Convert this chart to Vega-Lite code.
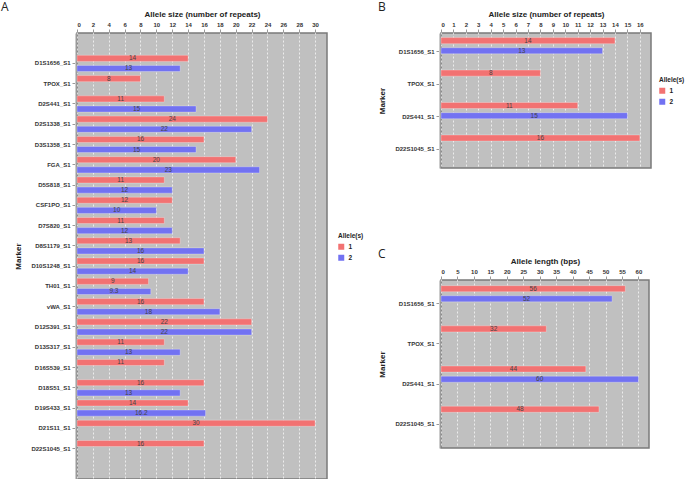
{
  "$schema": "https://vega.github.io/schema/vega-lite/v6.json",
  "padding": {"left": 0, "top": 0, "right": 0, "bottom": 0},
  "background": "white",
  "datasets": {
    "A": [
      {"marker": "D1S1656_S1", "allele": "1", "value": 14, "label": "14"},
      {"marker": "D1S1656_S1", "allele": "2", "value": 13, "label": "13"},
      {"marker": "TPOX_S1", "allele": "1", "value": 8, "label": "8"},
      {"marker": "D2S441_S1", "allele": "1", "value": 11, "label": "11"},
      {"marker": "D2S441_S1", "allele": "2", "value": 15, "label": "15"},
      {"marker": "D2S1338_S1", "allele": "1", "value": 24, "label": "24"},
      {"marker": "D2S1338_S1", "allele": "2", "value": 22, "label": "22"},
      {"marker": "D3S1358_S1", "allele": "1", "value": 16, "label": "16"},
      {"marker": "D3S1358_S1", "allele": "2", "value": 15, "label": "15"},
      {"marker": "FGA_S1", "allele": "1", "value": 20, "label": "20"},
      {"marker": "FGA_S1", "allele": "2", "value": 23, "label": "23"},
      {"marker": "D5S818_S1", "allele": "1", "value": 11, "label": "11"},
      {"marker": "D5S818_S1", "allele": "2", "value": 12, "label": "12"},
      {"marker": "CSF1PO_S1", "allele": "1", "value": 12, "label": "12"},
      {"marker": "CSF1PO_S1", "allele": "2", "value": 10, "label": "10"},
      {"marker": "D7S820_S1", "allele": "1", "value": 11, "label": "11"},
      {"marker": "D7S820_S1", "allele": "2", "value": 12, "label": "12"},
      {"marker": "D8S1179_S1", "allele": "1", "value": 13, "label": "13"},
      {"marker": "D8S1179_S1", "allele": "2", "value": 16, "label": "16"},
      {"marker": "D10S1248_S1", "allele": "1", "value": 16, "label": "16"},
      {"marker": "D10S1248_S1", "allele": "2", "value": 14, "label": "14"},
      {"marker": "TH01_S1", "allele": "1", "value": 9, "label": "9"},
      {"marker": "TH01_S1", "allele": "2", "value": 9.3, "label": "9.3"},
      {"marker": "vWA_S1", "allele": "1", "value": 16, "label": "16"},
      {"marker": "vWA_S1", "allele": "2", "value": 18, "label": "18"},
      {"marker": "D12S391_S1", "allele": "1", "value": 22, "label": "22"},
      {"marker": "D12S391_S1", "allele": "2", "value": 22, "label": "22"},
      {"marker": "D13S317_S1", "allele": "1", "value": 11, "label": "11"},
      {"marker": "D13S317_S1", "allele": "2", "value": 13, "label": "13"},
      {"marker": "D16S539_S1", "allele": "1", "value": 11, "label": "11"},
      {"marker": "D18S51_S1", "allele": "1", "value": 16, "label": "16"},
      {"marker": "D18S51_S1", "allele": "2", "value": 13, "label": "13"},
      {"marker": "D19S433_S1", "allele": "1", "value": 14, "label": "14"},
      {"marker": "D19S433_S1", "allele": "2", "value": 16.2, "label": "16.2"},
      {"marker": "D21S11_S1", "allele": "1", "value": 30, "label": "30"},
      {"marker": "D22S1045_S1", "allele": "1", "value": 16, "label": "16"}
    ],
    "B": [
      {"marker": "D1S1656_S1", "allele": "1", "value": 14, "label": "14"},
      {"marker": "D1S1656_S1", "allele": "2", "value": 13, "label": "13"},
      {"marker": "TPOX_S1", "allele": "1", "value": 8, "label": "8"},
      {"marker": "D2S441_S1", "allele": "1", "value": 11, "label": "11"},
      {"marker": "D2S441_S1", "allele": "2", "value": 15, "label": "15"},
      {"marker": "D22S1045_S1", "allele": "1", "value": 16, "label": "16"}
    ],
    "C": [
      {"marker": "D1S1656_S1", "allele": "1", "value": 56, "label": "56"},
      {"marker": "D1S1656_S1", "allele": "2", "value": 52, "label": "52"},
      {"marker": "TPOX_S1", "allele": "1", "value": 32, "label": "32"},
      {"marker": "D2S441_S1", "allele": "1", "value": 44, "label": "44"},
      {"marker": "D2S441_S1", "allele": "2", "value": 60, "label": "60"},
      {"marker": "D22S1045_S1", "allele": "1", "value": 48, "label": "48"}
    ]
  },
  "config": {
    "font": "Liberation Sans",
    "view": {"fill": "#c0c0c0", "stroke": "#7a7a7a", "strokeWidth": 1.5},
    "axis": {
      "labelFont": "Liberation Sans", "labelFontWeight": "bold", "labelFontSize": 6, "labelColor": "#333333",
      "titleFont": "Liberation Sans", "titleFontWeight": "bold", "titleFontSize": 8, "titleColor": "#222222",
      "tickColor": "#999999", "tickSize": 3, "domainColor": "#cccccc"
    },
    "axisX": {"grid": true, "gridColor": "#ffffff", "gridDash": [2, 2], "gridOpacity": 0.7, "labelPadding": 2, "titlePadding": 3, "domain": false, "offset": 1},
    "axisY": {"grid": false, "labelPadding": 2, "titlePadding": 8, "offset": 2},
    "legend": {
      "titleFont": "Liberation Sans", "titleFontSize": 6.5, "titleFontWeight": "bold", "titleColor": "#222222",
      "labelFont": "Liberation Sans", "labelFontSize": 6.5, "labelFontWeight": "bold", "labelColor": "#222222",
      "symbolType": "square", "symbolSize": 36, "symbolStrokeWidth": 0, "rowPadding": 4, "titlePadding": 4
    },
    "title": {"font": "Open Sans", "fontSize": 12, "fontWeight": "normal", "color": "#222222", "anchor": "start"}
  },
  "resolve": {"scale": {"color": "independent"}, "legend": {"color": "independent"}},
  "hconcat": [
    {
      "data": {"name": "A"},
      "width": 250,
      "height": 446,
      "title": {"text": "A", "dx": -14, "dy": 8},
      "encoding": {
        "y": {"field": "marker", "type": "nominal", "sort": null, "title": "Marker", "scale": {"paddingInner": 0, "paddingOuter": 1}},
        "yOffset": {"field": "allele", "type": "nominal", "scale": {"paddingInner": 0.4, "paddingOuter": 0.2}}
      },
      "layer": [
        {
          "mark": {"type": "bar", "stroke": "#ffffff", "strokeOpacity": 0.35, "strokeWidth": 0.8},
          "encoding": {
            "x": {"field": "value", "type": "quantitative", "title": "Allele size (number of repeats)",
              "scale": {"domain": [0, 31.5], "nice": false},
              "axis": {"orient": "top", "values": [0, 2, 4, 6, 8, 10, 12, 14, 16, 18, 20, 22, 24, 26, 28, 30]}},
            "color": {"field": "allele", "type": "nominal", "title": "Allele(s)",
              "scale": {"domain": ["1", "2"], "range": ["#f27272", "#7272f2"]},
              "legend": {"orient": "none", "legendX": 261, "legendY": 200}}
          }
        },
        {
          "mark": {"type": "text", "fontSize": 6.5, "color": "#444444", "font": "Liberation Sans"},
          "encoding": {
            "x": {"field": "value", "type": "quantitative", "scale": {"domain": [0, 63], "nice": false}, "axis": null},
            "text": {"field": "label"}
          }
        }
      ],
      "resolve": {"scale": {"x": "independent"}}
    },
    {
      "vconcat": [
        {
          "data": {"name": "B"},
          "width": 210,
          "height": 135,
          "title": {"text": "B", "dx": -1, "dy": 8},
          "encoding": {
            "y": {"field": "marker", "type": "nominal", "sort": null, "title": "Marker", "scale": {"paddingInner": 0, "paddingOuter": 0.08}},
            "yOffset": {"field": "allele", "type": "nominal", "scale": {"paddingInner": 0.5, "paddingOuter": 0.35}}
          },
          "layer": [
            {
              "mark": {"type": "bar", "stroke": "#ffffff", "strokeOpacity": 0.35, "strokeWidth": 0.8},
              "encoding": {
                "x": {"field": "value", "type": "quantitative", "title": "Allele size (number of repeats)",
                  "scale": {"domain": [0, 16.9], "nice": false},
                  "axis": {"orient": "top", "values": [0, 1, 2, 3, 4, 5, 6, 7, 8, 9, 10, 11, 12, 13, 14, 15, 16]}},
                "color": {"field": "allele", "type": "nominal", "title": "Allele(s)",
                  "scale": {"domain": ["1", "2"], "range": ["#f27272", "#7272f2"]},
                  "legend": {"orient": "none", "legendX": 218, "legendY": 44}}
              }
            },
            {
              "mark": {"type": "text", "fontSize": 6.5, "color": "#444444", "font": "Liberation Sans"},
              "encoding": {
                "x": {"field": "value", "type": "quantitative", "scale": {"domain": [0, 33.8], "nice": false}, "axis": null},
                "text": {"field": "label"}
              }
            }
          ],
          "resolve": {"scale": {"x": "independent"}}
        },
        {
          "data": {"name": "C"},
          "width": 208,
          "height": 168,
          "title": {"text": "C", "dx": -1, "dy": 8},
          "encoding": {
            "y": {"field": "marker", "type": "nominal", "sort": null, "title": "Marker", "scale": {"paddingInner": 0, "paddingOuter": 0.09}},
            "yOffset": {"field": "allele", "type": "nominal", "scale": {"paddingInner": 0.46, "paddingOuter": 0.32}}
          },
          "layer": [
            {
              "mark": {"type": "bar", "stroke": "#ffffff", "strokeOpacity": 0.35, "strokeWidth": 0.8},
              "encoding": {
                "x": {"field": "value", "type": "quantitative", "title": "Allele length (bps)",
                  "scale": {"domain": [0, 63.2], "nice": false},
                  "axis": {"orient": "top", "values": [0, 5, 10, 15, 20, 25, 30, 35, 40, 45, 50, 55, 60]}},
                "color": {"field": "allele", "type": "nominal", "title": "Allele(s)",
                  "scale": {"domain": ["1", "2"], "range": ["#f27272", "#7272f2"]},
                  "legend": {"orient": "none", "legendX": 218, "legendY": 59}}
              }
            },
            {
              "mark": {"type": "text", "fontSize": 6.5, "color": "#444444", "font": "Liberation Sans"},
              "encoding": {
                "x": {"field": "value", "type": "quantitative", "scale": {"domain": [0, 126.4], "nice": false}, "axis": null},
                "text": {"field": "label"}
              }
            }
          ],
          "resolve": {"scale": {"x": "independent"}}
        }
      ],
      "spacing": 78
    }
  ],
  "spacing": 12
}
